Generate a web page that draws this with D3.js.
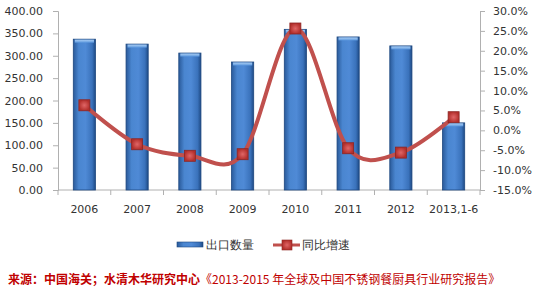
<!DOCTYPE html>
<html>
<head>
<meta charset="utf-8">
<script src="https://cdn.jsdelivr.net/npm/d3@7"></script>
<style>
  body { margin: 0; background: #fff; }
  text { font-family: "DejaVu Sans", sans-serif; }
</style>
</head>
<body>
<div id="chart"></div>
<script>
// data
var years = ["2006", "2007", "2008", "2009", "2010", "2011", "2012", "2013,1-6"];
var exportQty = [337, 326, 306, 286, 359, 342, 322, 150];
var growth = [6.3, -3.5, -6.4, -6.0, 25.6, -4.5, -5.6, 3.3];
var leftTicks = [0, 50, 100, 150, 200, 250, 300, 350, 400];
var rightTicks = [-15, -10, -5, 0, 5, 10, 15, 20, 25, 30];
var legendNames = ["出口数量", "同比增速"];

var W = 537, H = 289;
var margin = { top: 11, right: 57, bottom: 99, left: 58 };
var width = W - margin.left - margin.right,
    height = H - margin.top - margin.bottom;

var svg = d3.select("#chart").append("svg")
    .attr("width", W)
    .attr("height", H);

var defs = svg.append("defs");
var barGrad = defs.append("linearGradient").attr("id", "barGrad")
    .attr("x1", "0").attr("x2", "1").attr("y1", "0").attr("y2", "0");
barGrad.append("stop").attr("offset", "0%").attr("stop-color", "#2a5a9a");
barGrad.append("stop").attr("offset", "25%").attr("stop-color", "#4a86d0");
barGrad.append("stop").attr("offset", "55%").attr("stop-color", "#4f8ad6");
barGrad.append("stop").attr("offset", "85%").attr("stop-color", "#3a72bb");
barGrad.append("stop").attr("offset", "100%").attr("stop-color", "#1e4a85");

var capGrad = defs.append("linearGradient").attr("id", "capGrad")
    .attr("x1", "0").attr("x2", "0").attr("y1", "0").attr("y2", "1");
capGrad.append("stop").attr("offset", "0%").attr("stop-color", "#a9cdf3");
capGrad.append("stop").attr("offset", "100%").attr("stop-color", "#5c98de");

var mkGrad = defs.append("radialGradient").attr("id", "mkGrad");
mkGrad.append("stop").attr("offset", "0%").attr("stop-color", "#e06666");
mkGrad.append("stop").attr("offset", "100%").attr("stop-color", "#b32f2c");

var g = svg.append("g")
    .attr("transform", "translate(" + margin.left + "," + margin.top + ")");

var x = d3.scaleBand().domain(years).range([0, width]).paddingInner(0.58).paddingOuter(0.29);
var xb = d3.scaleBand().domain(years).range([0, width]);
var y = d3.scaleLinear().domain([0, 400]).range([height, 0]);
var y2 = d3.scaleLinear().domain([-15, 30]).range([height, 0]);

// left axis
var yAxis = g.append("g")
    .call(d3.axisLeft(y).tickValues(leftTicks).tickSize(5).tickFormat(d3.format(".2f")));
// right axis
var y2Axis = g.append("g")
    .attr("transform", "translate(" + width + ",0)")
    .call(d3.axisRight(y2).tickValues(rightTicks).tickSize(5).tickFormat(function (d) { return d.toFixed(1) + "%"; }));
// x axis, ticks between categories
var xAxis = g.append("g")
    .attr("transform", "translate(0," + height + ")")
    .call(d3.axisBottom(xb).tickSize(0).tickPadding(15));
xAxis.selectAll(".tick")
    .append("line")
    .attr("x1", -xb.bandwidth() / 2).attr("x2", -xb.bandwidth() / 2)
    .attr("y1", 0).attr("y2", 5)
    .attr("stroke", "#b0b0b0");
xAxis.append("line")
    .attr("x1", width).attr("x2", width).attr("y1", 0).attr("y2", 5)
    .attr("stroke", "#b0b0b0");

[yAxis, y2Axis, xAxis].forEach(function (a) {
    a.select(".domain").attr("stroke", "#b0b0b0");
    a.selectAll(".tick line").attr("stroke", "#b0b0b0");
    a.selectAll("text").attr("fill", "#333").style("font-size", "11px");
});
yAxis.selectAll("text").attr("x", -15);
y2Axis.selectAll("text").attr("x", 13);
xAxis.select(".domain").attr("d", "M0,0H" + width);

// bars
var bars = g.selectAll(".bar").data(exportQty).enter().append("g").attr("class", "bar");
bars.append("rect")
    .attr("x", function (d, i) { return x(years[i]); })
    .attr("y", function (d) { return y(d); })
    .attr("width", x.bandwidth())
    .attr("height", function (d) { return height - y(d); })
    .attr("fill", "url(#barGrad)")
    .attr("stroke", "#1d477f")
    .attr("stroke-width", 0.8);
bars.append("rect")
    .attr("x", function (d, i) { return x(years[i]) + 1.5; })
    .attr("y", function (d) { return y(d) + 0.5; })
    .attr("width", x.bandwidth() - 3)
    .attr("height", 3)
    .attr("fill", "url(#capGrad)");

// line
var line = d3.line()
    .x(function (d, i) { return xb(years[i]) + xb.bandwidth() / 2; })
    .y(function (d) { return y2(d); })
    .curve(d3.curveCatmullRom.alpha(0));
g.append("path")
    .datum(growth)
    .attr("d", line)
    .attr("fill", "none")
    .attr("stroke", "#c0504d")
    .attr("stroke-width", 4);

var ms = 11;
g.selectAll(".mk").data(growth).enter().append("rect")
    .attr("class", "mk")
    .attr("x", function (d, i) { return xb(years[i]) + xb.bandwidth() / 2 - ms / 2; })
    .attr("y", function (d) { return y2(d) - ms / 2; })
    .attr("width", ms).attr("height", ms)
    .attr("fill", "url(#mkGrad)")
    .attr("stroke", "#8c2523")
    .attr("stroke-width", 0.8);

// legend
var lg = svg.append("g").attr("transform", "translate(0,245)");
lg.append("rect").attr("x", 177).attr("y", -3).attr("width", 26).attr("height", 5)
    .attr("fill", "url(#barGrad)").attr("stroke", "#1d477f").attr("stroke-width", 0.6);
lg.append("text").attr("x", 206).attr("y", 4).style("font-size", "12px").attr("fill", "#333")
    .text(legendNames[0]);
lg.append("line").attr("x1", 273).attr("x2", 300).attr("y1", 0).attr("y2", 0)
    .attr("stroke", "#c0504d").attr("stroke-width", 3);
lg.append("rect").attr("x", 282).attr("y", -5).attr("width", 10).attr("height", 10)
    .attr("fill", "url(#mkGrad)").attr("stroke", "#8c2523").attr("stroke-width", 0.6);
lg.append("text").attr("x", 302).attr("y", 4).style("font-size", "12px").attr("fill", "#333")
    .text(legendNames[1]);

// source note
var src = svg.append("text").attr("x", 8).attr("y", 284).style("font-size", "12px");
src.append("tspan").attr("fill", "#c00000").style("font-weight", "bold")
    .style("font-family", "'Noto Sans CJK SC', sans-serif")
    .text("来源：中国海关；水清木华研究中心");
src.append("tspan").attr("fill", "#c00000")
    .style("font-family", "'Noto Sans CJK SC', sans-serif")
    .text("《2013-2015 年全球及中国不锈钢餐厨具行业研究报告》");
</script>
</body>
</html>
